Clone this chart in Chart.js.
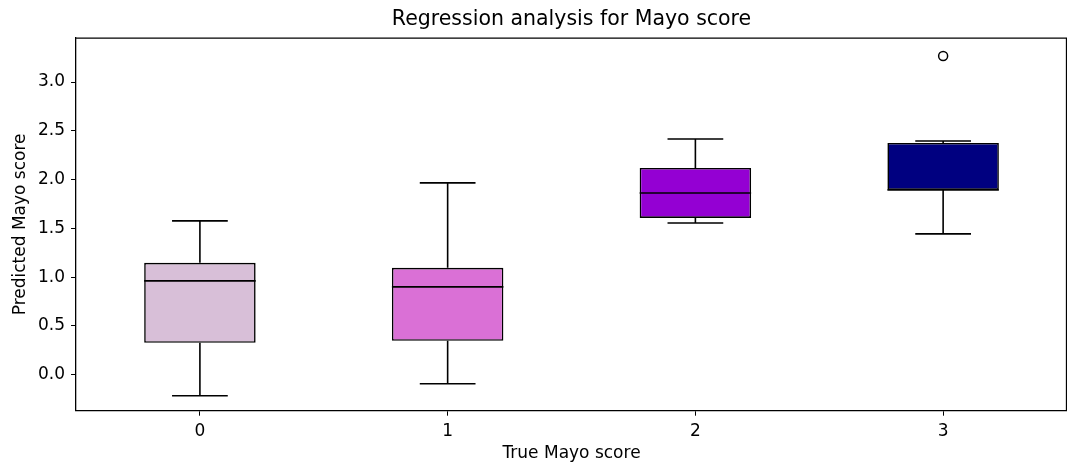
<!DOCTYPE html>
<html lang="en">
<head>
    <meta charset="UTF-8">
    <title>Regression analysis for Mayo score</title>
    <script src="https://cdn.jsdelivr.net/npm/chart.js"></script>
    <style>
        body {
            margin: 0;
            background-color: white;
        }
        #wrap {
            width: 1067px;
            height: 466px;
        }
    </style>
</head>
<body>
    <div id="wrap">
        <canvas id="boxChart" width="1067" height="466"></canvas>
    </div>

    <script>
        // Boxplot data
        const categories = ['0', '1', '2', '3'];
        const whiskerLow = [-0.215, -0.092, 1.556, 1.444];
        const q1 = [0.328, 0.348, 1.607, 1.894];
        const medians = [0.962, 0.901, 1.863, 1.894];
        const q3 = [1.147, 1.096, 2.120, 2.375];
        const whiskerHigh = [1.577, 1.966, 2.416, 2.396];
        const outliers = [[], [], [], [3.266]];
        const boxColors = ['#D8BFD8', '#DA70D6', '#9400D3', '#000080'];
        const yTicks = [0, 0.5, 1.0, 1.5, 2.0, 2.5, 3.0];

        const fontFamily = '"DejaVu Sans", sans-serif';

        // whiskers, caps, medians, fliers and the top/right frame
        const boxExtras = {
            id: 'boxExtras',
            afterDatasetsDraw(chart) {
                const ctx = chart.ctx;
                const x = chart.scales.x;
                const y = chart.scales.y;
                const meta = chart.getDatasetMeta(0);
                ctx.save();
                ctx.strokeStyle = '#000';
                ctx.lineWidth = 1.6;
                meta.data.forEach((bar, i) => {
                    const cx = x.getPixelForValue(i);
                    const half = bar.width / 2;
                    const capHalf = half / 2;
                    const yLo = y.getPixelForValue(whiskerLow[i]);
                    const yQ1 = y.getPixelForValue(q1[i]);
                    const yQ3 = y.getPixelForValue(q3[i]);
                    const yHi = y.getPixelForValue(whiskerHigh[i]);
                    const yMed = y.getPixelForValue(medians[i]);
                    ctx.beginPath();
                    // lower whisker
                    ctx.moveTo(cx, yQ1);
                    ctx.lineTo(cx, yLo);
                    ctx.moveTo(cx - capHalf, yLo);
                    ctx.lineTo(cx + capHalf, yLo);
                    // upper whisker
                    ctx.moveTo(cx, yQ3);
                    ctx.lineTo(cx, yHi);
                    ctx.moveTo(cx - capHalf, yHi);
                    ctx.lineTo(cx + capHalf, yHi);
                    // median
                    ctx.moveTo(cx - half, yMed);
                    ctx.lineTo(cx + half, yMed);
                    ctx.stroke();

                    // fliers
                    outliers[i].forEach(v => {
                        ctx.beginPath();
                        ctx.arc(cx, y.getPixelForValue(v), 4.5, 0, Math.PI * 2);
                        ctx.fillStyle = '#fff';
                        ctx.fill();
                        ctx.lineWidth = 1.5;
                        ctx.stroke();
                        ctx.lineWidth = 1.6;
                    });
                });
                // top and right spines
                const a = chart.chartArea;
                ctx.lineWidth = 1.3;
                ctx.beginPath();
                ctx.moveTo(a.left, a.top);
                ctx.lineTo(a.right - 0.5, a.top);
                ctx.lineTo(a.right - 0.5, a.bottom);
                ctx.stroke();
                ctx.restore();
            }
        };

        const boxChart = new Chart(document.getElementById('boxChart'), {
            type: 'bar',
            data: {
                labels: categories,
                datasets: [
                    {
                        label: 'box',
                        data: q1.map((v, i) => [v, q3[i]]),
                        backgroundColor: boxColors,
                        borderColor: '#000',
                        borderWidth: 1.6,
                        borderSkipped: false,
                        categoryPercentage: 1.0,
                        barPercentage: 0.45
                    }
                ]
            },
            options: {
                responsive: false,
                animation: false,
                layout: {
                    padding: { left: 0, right: 0, top: 0, bottom: 0 }
                },
                plugins: {
                    legend: { display: false },
                    tooltip: { enabled: false },
                    title: {
                        display: true,
                        fullSize: false,
                        text: 'Regression analysis for Mayo score',
                        color: '#000',
                        font: { family: fontFamily, size: 20.5, weight: 'normal' },
                        padding: { top: 7, bottom: 6.5 }
                    }
                },
                scales: {
                    x: {
                        type: 'category',
                        offset: true,
                        grid: {
                            display: true,
                            drawOnChartArea: false,
                            drawTicks: true,
                            tickLength: 5,
                            color: '#000',
                            offset: false
                        },
                        border: { display: true, color: '#000', width: 1.3 },
                        ticks: {
                            color: '#000',
                            padding: 5.3,
                            font: { family: fontFamily, size: 17 }
                        },
                        title: {
                            display: true,
                            text: 'True Mayo score',
                            color: '#000',
                            font: { family: fontFamily, size: 17 },
                            padding: { top: -2.9, bottom: 1.8 }
                        }
                    },
                    y: {
                        type: 'linear',
                        min: -0.368,
                        max: 3.45,
                        afterBuildTicks(axis) {
                            axis.ticks = yTicks.map(v => ({ value: v }));
                        },
                        grid: {
                            display: true,
                            drawOnChartArea: false,
                            drawTicks: true,
                            tickLength: 5,
                            color: '#000'
                        },
                        border: { display: true, color: '#000', width: 1.3 },
                        ticks: {
                            color: '#000',
                            padding: 6,
                            font: { family: fontFamily, size: 17 },
                            callback: v => Number(v).toFixed(1)
                        },
                        title: {
                            display: true,
                            text: 'Predicted Mayo score',
                            color: '#000',
                            font: { family: fontFamily, size: 17 },
                            padding: { top: 10, bottom: 1.6 }
                        }
                    }
                }
            },
            plugins: [boxExtras]
        });
    </script>
</body>
</html>
